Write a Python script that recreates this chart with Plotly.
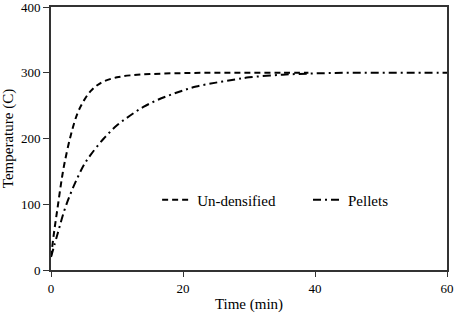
import plotly.graph_objects as go

# Un-densified
t_und = [0, 0.5, 1, 1.5, 2, 3, 4, 5, 6, 7, 8, 10, 12, 15, 20, 25, 30, 35, 39]
T_und = [20, 60, 95, 130, 160, 205, 238, 258, 272, 281, 287, 293, 296, 298, 299.5, 300, 300, 300, 300]

# Pellets
t_pel = [0, 1, 2, 3, 4, 5, 6, 8, 10, 12, 14, 16, 18, 20, 22, 25, 28, 30, 35, 40, 45, 50, 55, 60]
T_pel = [20, 55, 90, 117, 140, 160, 175, 200, 220, 235, 248, 258, 266, 273, 279, 285, 290, 293, 297, 299, 300, 300, 300, 300]

x_ticks = [0, 20, 40, 60]
y_ticks = [0, 100, 200, 300, 400]

fig = go.Figure()
fig.add_trace(go.Scatter(x=t_und, y=T_und, mode="lines", name="Un-densified", legend="legend",
                         line=dict(color="black", width=2, dash="6px,4px"), line_shape="spline"))
fig.add_trace(go.Scatter(x=t_pel, y=T_pel, mode="lines", name="Pellets", legend="legend2",
                         line=dict(color="black", width=2, dash="8px,4px,2px,4px"), line_shape="spline"))

font = "Liberation Serif, Times New Roman, serif"
leg = dict(orientation="h", yanchor="middle", xanchor="left", bgcolor="rgba(0,0,0,0)",
           font=dict(size=15), borderwidth=0)
fig.update_layout(
    width=454, height=313,
    margin=dict(l=51, r=7, t=7, b=43, autoexpand=False),
    paper_bgcolor="white", plot_bgcolor="white",
    font=dict(family=font, size=13, color="black"),
    showlegend=True,
    legend=dict(leg, x=0.268, y=0.266),
    legend2=dict(leg, x=0.649, y=0.266),
)
fig.update_xaxes(range=[0, 60], tickvals=x_ticks, showgrid=False, zeroline=False, automargin=False,
                 showline=True, linecolor="#333", linewidth=2, mirror=True,
                 ticks="outside", ticklen=5, tickcolor="#333", ticklabeloverflow="allow",
                 title=dict(text="Time (min)", font=dict(size=15), standoff=4))
fig.update_yaxes(range=[0, 400], tickvals=y_ticks, showgrid=False, zeroline=False, automargin=False,
                 showline=True, linecolor="#333", linewidth=2, mirror=True,
                 ticks="outside", ticklen=6, tickcolor="#333", ticklabeloverflow="allow",
                 title=dict(text="Temperature (C)", font=dict(size=15), standoff=6))
fig.write_html("out.html", config={"displayModeBar": False},
               post_script="document.body.style.margin='0';document.body.style.padding='0';")
